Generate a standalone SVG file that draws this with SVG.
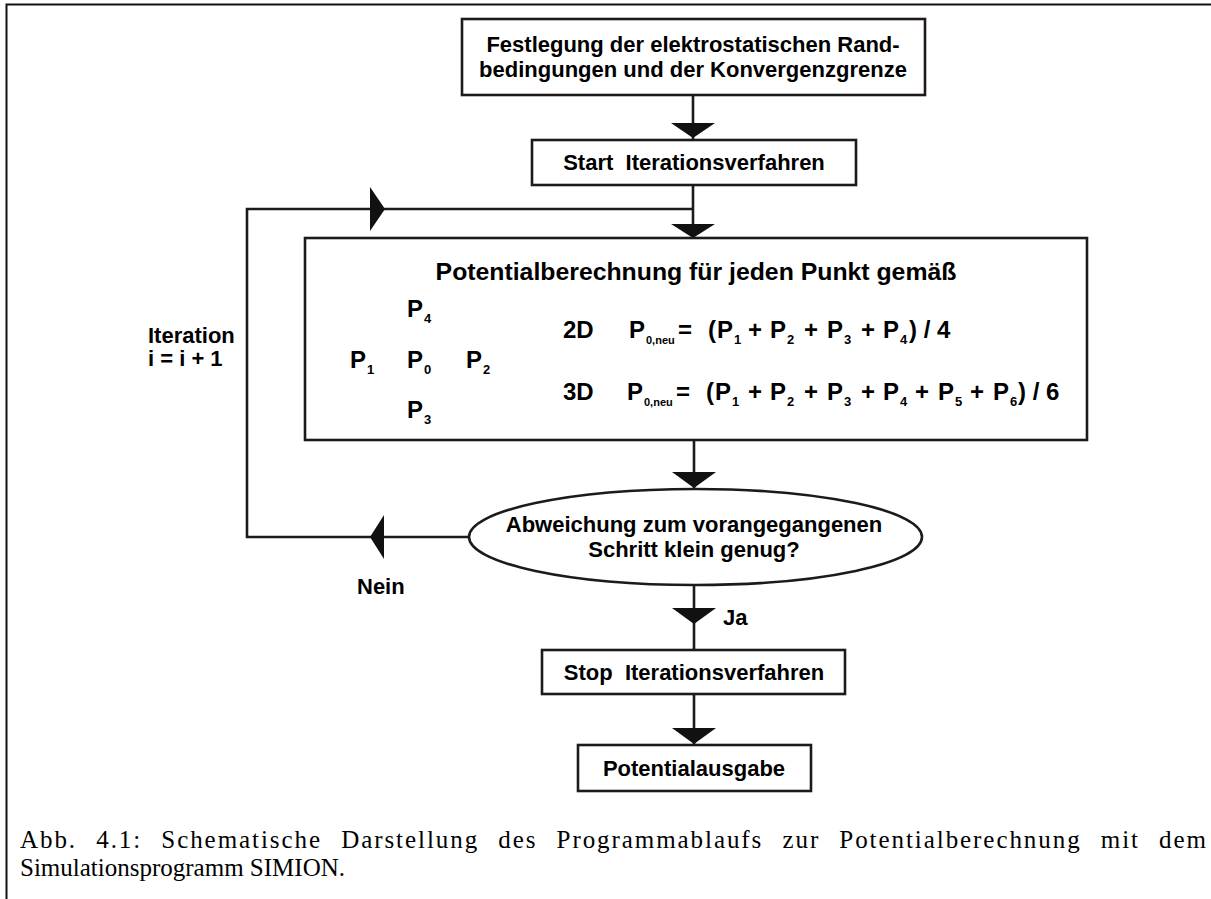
<svg xmlns="http://www.w3.org/2000/svg" width="1211" height="899" viewBox="0 0 1211 899">
<style>
.box{fill:#fff;stroke:#1e1a18;stroke-width:2.6}
.ln{fill:none;stroke:#1e1a18;stroke-width:2.6}
.ah{fill:#111;stroke:none}
.t{font-family:"Liberation Sans",Arial,sans-serif;font-weight:bold;fill:#000}
.b22{font-size:22px}
.b24{font-size:24px}
.sub{font-size:13px}
.sn{font-size:11px}
.cap{font-family:"Liberation Serif","Times New Roman",serif;font-size:25px;fill:#000}
</style>
<rect width="1211" height="899" fill="#fff"/>
<path d="M6.5,899 V4.5 H1211" fill="none" stroke="#111" stroke-width="2"/>

<g id="connectors">
  <line class="ln" x1="693" y1="95" x2="693" y2="140"/>
  <polygon class="ah" points="671,123 715,123 693,138"/>
  <line class="ln" x1="693" y1="185" x2="693" y2="238"/>
  <polygon class="ah" points="671,224 715,224 693,238"/>
  <polyline class="ln" points="469,537 247,537 247,209 693,209"/>
  <polygon class="ah" points="370,187 370,231 385,209"/>
  <polygon class="ah" points="384,515 384,559 370,537"/>
  <line class="ln" x1="694" y1="440" x2="694" y2="489"/>
  <polygon class="ah" points="672,472 716,472 694,488"/>
  <line class="ln" x1="694" y1="585" x2="694" y2="650"/>
  <polygon class="ah" points="672,608 716,608 694,624"/>
  <line class="ln" x1="694" y1="694" x2="694" y2="745"/>
  <polygon class="ah" points="672,728 716,728 694,744"/>
  <text class="t b22" x="148" y="343">Iteration</text>
  <text class="t b22" x="148" y="366">i = i + 1</text>
  <text class="t b22" x="357" y="594">Nein</text>
  <text class="t b22" x="723" y="625">Ja</text>
</g>

<g id="n1">
  <rect class="box" x="462" y="19" width="463" height="76"/>
  <text class="t b22" x="693" y="52" text-anchor="middle">Festlegung der elektrostatischen Rand-</text>
  <text class="t b22" x="693" y="77" text-anchor="middle">bedingungen und der Konvergenzgrenze</text>
</g>

<g id="n2">
  <rect class="box" x="532" y="140" width="324" height="45"/>
  <text class="t b22" x="694" y="170" text-anchor="middle" xml:space="preserve">Start  Iterationsverfahren</text>
</g>

<g id="n3">
  <rect class="box" x="305" y="238" width="782" height="202"/>
  <text class="t" style="font-size:24.8px" x="696" y="280" text-anchor="middle">Potentialberechnung für jeden Punkt gemäß</text>
  <text class="t b24" x="407" y="317">P<tspan class="sub" x="424" y="323">4</tspan></text>
  <text class="t b24" x="350" y="368">P<tspan class="sub" x="367" y="374">1</tspan></text>
  <text class="t b24" x="407" y="368">P<tspan class="sub" x="424" y="374">0</tspan></text>
  <text class="t b24" x="466" y="368">P<tspan class="sub" x="483" y="374">2</tspan></text>
  <text class="t b24" x="407" y="418">P<tspan class="sub" x="424" y="424">3</tspan></text>

  <text class="t b24" y="338"><tspan x="563">2D</tspan><tspan x="629">P</tspan><tspan class="sn" x="646" y="344">0,neu</tspan><tspan x="678" y="338">=</tspan><tspan x="708">(</tspan><tspan x="717">P</tspan><tspan class="sub" x="734" y="344">1</tspan><tspan x="748" y="338">+</tspan><tspan x="770">P</tspan><tspan class="sub" x="787" y="344">2</tspan><tspan x="804" y="338">+</tspan><tspan x="827">P</tspan><tspan class="sub" x="844" y="344">3</tspan><tspan x="861" y="338">+</tspan><tspan x="883">P</tspan><tspan class="sub" x="900" y="344">4</tspan><tspan x="909" y="338">) / 4</tspan></text>

  <text class="t b24" y="400"><tspan x="563">3D</tspan><tspan x="627">P</tspan><tspan class="sn" x="644" y="406">0,neu</tspan><tspan x="676" y="400">=</tspan><tspan x="706">(</tspan><tspan x="715">P</tspan><tspan class="sub" x="732" y="406">1</tspan><tspan x="748" y="400">+</tspan><tspan x="770">P</tspan><tspan class="sub" x="787" y="406">2</tspan><tspan x="804" y="400">+</tspan><tspan x="827">P</tspan><tspan class="sub" x="844" y="406">3</tspan><tspan x="861" y="400">+</tspan><tspan x="883">P</tspan><tspan class="sub" x="900" y="406">4</tspan><tspan x="915" y="400">+</tspan><tspan x="938">P</tspan><tspan class="sub" x="955" y="406">5</tspan><tspan x="970" y="400">+</tspan><tspan x="993">P</tspan><tspan class="sub" x="1010" y="406">6</tspan><tspan x="1018" y="400">) / 6</tspan></text>
</g>

<g id="n4">
  <ellipse class="box" cx="695.5" cy="537" rx="226.5" ry="48"/>
  <text class="t b22" x="694" y="532" text-anchor="middle">Abweichung zum vorangegangenen</text>
  <text class="t b22" x="694" y="557" text-anchor="middle">Schritt klein genug?</text>
</g>

<g id="n5">
  <rect class="box" x="542" y="650" width="303" height="44"/>
  <text class="t b22" x="694" y="680" text-anchor="middle" xml:space="preserve">Stop  Iterationsverfahren</text>
</g>

<g id="n6">
  <rect class="box" x="578" y="745" width="233" height="46"/>
  <text class="t b22" x="694" y="776" text-anchor="middle">Potentialausgabe</text>
</g>

<g id="caption">
  <text class="cap" x="20" y="848" textLength="1186" lengthAdjust="spacing" style="word-spacing:11px">Abb. 4.1: Schematische Darstellung des Programmablaufs zur Potentialberechnung mit dem</text>
  <text class="cap" x="20" y="876">Simulationsprogramm SIMION.</text>
</g>
</svg>
